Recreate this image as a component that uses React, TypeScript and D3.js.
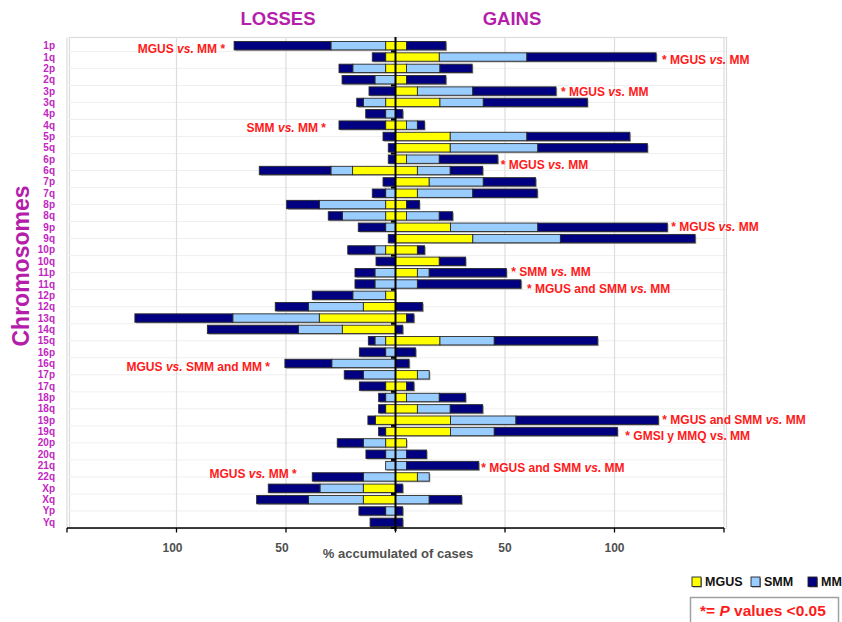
import React from "react";
import * as d3 from "d3";

const categories = ["1p","1q","2p","2q","3p","3q","4p","4q","5p","5q","6p","6q","7p","7q","8p","8q","9p","9q","10p","10q","11p","11q","12p","12q","13q","14q","15q","16p","16q","17p","17q","18p","18q","19p","19q","20p","20q","21q","22q","Xp","Xq","Yp","Yq"];

// Losses (% of cases), stacked outward to the left
const lossMGUS = [4.5,4.5,4.5,0,0,4.5,0,4.5,0,0,0,19.6,0,0,4.5,4.5,0,0,4.5,0,0,0,4.5,14.7,34.8,24.3,4.5,0,0,0,4.5,0,4.5,9.2,4.5,4.5,0,0,0,14.7,14.7,0,0];
const lossSMM = [25,0,15,9.4,0,10.2,4.5,0,0,0,0,9.9,0,4.5,30.3,19.8,4.5,0,4.9,0,9.4,9.4,15,25.1,39.5,20.1,4.9,4.5,29.1,14.7,0,4.5,0,0,0,10.2,4.5,4.5,14.7,19.8,25.1,4.5,0];
const lossMM = [44.2,6.1,6.3,15,12.1,3,9.1,21.3,5.7,3.3,3.3,32.7,5.7,6.1,14.9,6.4,12.5,3.3,12.4,8.9,9.1,9.1,18.5,15.1,44.7,41.5,3,12,21.4,8.7,12,3.2,3.2,3.4,3.2,11.9,9,0,23.3,23.6,23.6,12.2,11.6];

// Gains (% of cases), stacked outward to the right
const gainMGUS = [5,20,5,5,10,20.3,0,5,25,25,5,10,15.4,10,5,5,25.1,35.3,10,20,10,0,0,0,5,0,20.3,0,0,10,5,5,10,25.1,25.1,5,0,0,10,0,0,0,0];
const gainSMM = [0,40,15.3,0,25.3,19.8,0,5,35,40,15,15,24.7,25.3,0,15,39.9,40,0,0,5.4,10,0,0,0,0,24.8,0,0,5.4,0,15,15,29.9,20,0,5,5,5.4,0,15.4,0,0];
const gainMM = [18,59,14.7,18,38,47.5,3.3,3.2,47,50,26.7,14.8,23.9,29.4,5.9,6.1,59.1,61.5,3.3,12,35.2,47.3,0,12.4,3.4,3.3,47.2,9.2,6.2,0,3.4,12,14.8,65,56.2,0,9.2,33,0,3.3,14.8,3.3,3.3];

const seriesNames = ["MGUS", "SMM", "MM"];
const seriesColors = ["#FFFF00", "#99CCFF", "#000080"];

const xTicks = [-150, -100, -50, 0, 50, 100, 150];
const xTickLabels = ["", "100", "50", "", "50", "100", ""];

const annotations = [
  { cat: "1p", side: "L", text: "MGUS vs. MM *", gap: 9, dy: 3 },
  { cat: "1q", side: "R", text: "* MGUS vs. MM", gap: 6, dy: 3 },
  { cat: "3p", side: "R", text: "* MGUS vs. MM", gap: 5, dy: 1 },
  { cat: "4q", side: "L", text: "SMM vs. MM *", gap: 13, dy: 3 },
  { cat: "6p", side: "R", text: "* MGUS vs. MM", gap: 3, dy: 6 },
  { cat: "9p", side: "R", text: "* MGUS vs. MM", gap: 4, dy: 0 },
  { cat: "11p", side: "R", text: "* SMM vs. MM", gap: 5, dy: -1 },
  { cat: "11q", side: "R", text: "* MGUS and SMM vs. MM", gap: 6, dy: 5 },
  { cat: "16q", side: "L", text: "MGUS vs. SMM and MM *", gap: 15, dy: 4 },
  { cat: "19p", side: "R", text: "* MGUS and SMM vs. MM", gap: 4, dy: 0 },
  { cat: "19q", side: "R", text: "* GMSI y MMQ vs. MM", gap: 8, dy: 4, plain: true },
  { cat: "21q", side: "R", text: "* MGUS and SMM vs. MM", gap: 2.5, dy: 2 },
  { cat: "22q", side: "L", text: "MGUS vs. MM *", gap: 15.5, dy: -3 },
];

const FONT = "'Liberation Sans', Arial, sans-serif";
const PURPLE = "#B41EAA";
const LABEL = "#C026C0";
const RED = "#FF1A1A";

function AnnText({ a, x, y }: any) {
  const parts = a.text.split("vs.");
  return (
    <text x={x} y={y} textAnchor={a.side === "L" ? "end" : "start"} fontFamily={FONT} fontWeight="bold" fontSize={12} fill={RED} dominantBaseline="central">
      {parts.map((p: string, i: number) => (
        <React.Fragment key={i}>
          <tspan>{p}</tspan>
          {i < parts.length - 1 && <tspan fontStyle={a.plain ? "normal" : "italic"}>vs.</tspan>}
        </React.Fragment>
      ))}
    </text>
  );
}

export default function App() {
  const W = 842, H = 622;
  const plotTop = 40, plotBottom = 528;
  const x = d3.scaleLinear().domain([-150, 150]).range([67, 724]);
  const y = d3.scaleBand<string>().domain(categories).range([plotTop, plotBottom]).paddingInner(0.26).paddingOuter(0.13);
  const step = y.step();
  const bw = y.bandwidth();

  const lossSeries = [lossMGUS, lossSMM, lossMM];
  const gainSeries = [gainMGUS, gainSMM, gainMM];

  const rows = categories.map((c, i) => {
    const segs: any[] = [];
    let acc = 0;
    lossSeries.forEach((s, k) => {
      const v = s[i];
      if (v > 0) segs.push({ k, x0: x(-(acc + v)), x1: x(-acc) });
      acc += v;
    });
    const lossTotal = acc;
    acc = 0;
    gainSeries.forEach((s, k) => {
      const v = s[i];
      if (v > 0) segs.push({ k, x0: x(acc), x1: x(acc + v) });
      acc += v;
    });
    const gainTotal = acc;
    return { c, i, segs, lossTotal, gainTotal, y0: y(c) as number };
  });

  const hGrid = d3.range(1, 29).map((k) => plotBottom - k * 1.5 * step);
  const yTicks = d3.range(0, 15).map((k) => plotBottom - k * 3 * step);

  return (
    <svg width={W} height={H} style={{ position: "absolute", left: 0, top: 0, background: "#fff" }}>
      {/* plot frame */}
      <rect x={69.5} y={37.5} width={657} height={491} fill="none" stroke="#dcdcdc" strokeWidth={1.2} />
      {hGrid.map((gy, i) => (
        <line key={"h" + i} x1={69} x2={726} y1={gy} y2={gy} stroke="#efefef" strokeWidth={1} />
      ))}
      {xTicks.filter((t) => t !== 0).map((t) => (
        <line key={"g" + t} x1={x(t)} x2={x(t)} y1={37.5} y2={plotBottom} stroke="#dddddd" strokeWidth={1.2} />
      ))}

      {/* bars shadow */}
      {rows.map((r) => (
        <rect key={"s" + r.c} x={x(-r.lossTotal) + 1.2} y={r.y0 + 1.2} width={Math.max(0, x(r.gainTotal) - x(-r.lossTotal))} height={bw} fill="#999" opacity={r.lossTotal + r.gainTotal > 0 ? 0.8 : 0} />
      ))}
      {/* bars */}
      {rows.map((r) =>
        r.segs.map((s: any, j: number) => (
          <rect key={r.c + "-" + j} x={s.x0} y={r.y0} width={s.x1 - s.x0} height={bw} fill={seriesColors[s.k]} stroke="#2a2a2a" strokeWidth={0.9} />
        ))
      )}

      {/* center axis */}
      <line x1={x(0)} x2={x(0)} y1={37} y2={plotBottom + 3} stroke="#000" strokeWidth={2} />
      {yTicks.map((ty, i) => (
        <line key={"yt" + i} x1={x(0) - 4.5} x2={x(0)} y1={ty} y2={ty} stroke="#000" strokeWidth={2} />
      ))}

      {/* bottom axis */}
      <line x1={x(-150)} x2={x(150)} y1={plotBottom} y2={plotBottom} stroke="#000" strokeWidth={1.5} />
      {xTicks.map((t, i) => (
        <g key={"xt" + t}>
          <line x1={x(t)} x2={x(t)} y1={plotBottom} y2={plotBottom + 4.5} stroke="#000" strokeWidth={1.3} />
          {xTickLabels[i] && (
            <text x={x(t) + (t < 0 ? -4 : 0)} y={551.5} textAnchor="middle" fontFamily={FONT} fontWeight="bold" fontSize={12} fill="#505050">
              {xTickLabels[i]}
            </text>
          )}
        </g>
      ))}
      <text x={398} y={558} textAnchor="middle" fontFamily={FONT} fontWeight="bold" fontSize={13} fill="#505050">
        % accumulated of cases
      </text>

      {/* category labels */}
      {rows.map((r) => (
        <text key={"l" + r.c} x={55} y={r.y0 + bw / 2} textAnchor="end" dominantBaseline="central" fontFamily={FONT} fontWeight="bold" fontSize={10} fill={LABEL}>
          {r.c}
        </text>
      ))}

      {/* titles */}
      <text x={278} y={25} textAnchor="middle" fontFamily={FONT} fontWeight="bold" fontSize={18.5} fill={PURPLE}>LOSSES</text>
      <text x={512} y={25} textAnchor="middle" fontFamily={FONT} fontWeight="bold" fontSize={18.5} fill={PURPLE}>GAINS</text>
      <text transform="translate(29,266) rotate(-90)" textAnchor="middle" fontFamily={FONT} fontWeight="bold" fontSize={23} fill={PURPLE}>Chromosomes</text>

      {/* annotations */}
      {annotations.map((a, i) => {
        const r = rows[categories.indexOf(a.cat)];
        const ax = a.side === "L" ? x(-r.lossTotal) - a.gap : x(r.gainTotal) + a.gap;
        const ay = r.y0 + bw / 2 + a.dy;
        return <AnnText key={"a" + i} a={a} x={ax} y={ay} />;
      })}

      {/* legend */}
      {seriesNames.map((n, i) => {
        const lx = [692, 751, 808][i];
        return (
          <g key={"lg" + n}>
            <rect x={lx + 1} y={578} width={9} height={9.5} fill="#888" />
            <rect x={lx} y={577} width={9} height={9.5} fill={seriesColors[i]} stroke="#222" strokeWidth={0.9} />
            <text x={lx + 13} y={586} fontFamily={FONT} fontWeight="bold" fontSize={12.5} fill="#111">{n}</text>
          </g>
        );
      })}
      <rect x={690.5} y={597.5} width={148} height={30} fill="#fff" stroke="#a0a0a0" strokeWidth={1.5} />
      <text x={700} y={616} fontFamily={FONT} fontWeight="bold" fontSize={15.5} fill={RED}>
        <tspan>*= </tspan>
        <tspan fontStyle="italic">P</tspan>
        <tspan> values &lt;0.05</tspan>
      </text>
    </svg>
  );
}
